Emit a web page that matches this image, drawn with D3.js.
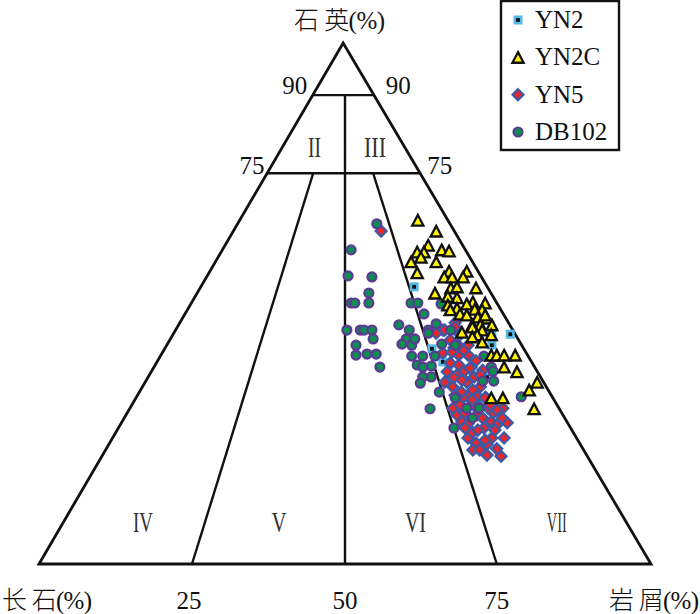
<!DOCTYPE html>
<html>
<head>
	<meta charset="utf-8">
	<title>石英-长石-岩屑</title>
	<script src="https://cdn.jsdelivr.net/npm/d3@7"></script>
	<style>
		body { margin: 0; background: #fff; }
		text { font-family: "Liberation Serif", serif; fill: #111; }
		.cjk { font-family: "Liberation Serif", "Noto Sans CJK SC", sans-serif; font-weight: 300; }
	</style>
</head>
<body>
<script>
// every point: [position along the base in %, quartz in %]
var outline = [[0, 0], [49.7, 100], [100, 0]];
var dividers = [
	[[44.8, 90], [54.7, 90]],
	[[37.4, 75], [62.3, 75]],
	[[50, 90], [50, 0]],
	[[44.8, 75], [25, 0]],
	[[54.6, 75], [74.8, 0]]
];

var yn2 = [[61.3,53.2],[77,44.1],[74,44.1],[64.2,41.3],[65.8,39.9],[66,38.8],[67,38.2],[74,42],[73.2,35.9]];

var yn2c = [[61.9,66],[64.9,63.9],[63.6,61.2],[61.8,59.9],[62.9,59.9],[65.8,60.3],[67,60.1],[62.4,58.9],[60.8,58],[64.9,58],
	[61.8,55.9],[67,56.2],[66.2,55.1],[67.5,55.1],[69.9,56.2],[69.3,55.1],[71.4,53],[64.7,52],[67.3,53],[68.3,53.2],
	[68.3,51.1],[66.8,51.4],[70.9,50.3],[72.9,50.1],[66.8,49.7],[69.9,49.9],[68.3,49.1],[67.2,48.8],[72.4,48.8],[71.2,48.9],
	[68.8,48],[69.9,47.8],[71.7,47.4],[73.2,47.2],[72.9,47.8],[70.8,45.9],[74,45.9],[72.1,45.9],[69.1,44.5],[70.8,45.5],
	[72.4,44.9],[73.9,44],[71.6,44],[72.4,42.6],[70.8,43.6],[73.9,40.1],[74.8,40.1],[76,40.1],[77.8,40.1],[76,37.8],
	[78.1,36.9],[81.4,34.9],[80.1,33.4],[73.9,31.9],[75.8,31.9],[80.9,29.8]];

var yn5 = [[55.9,63.9],[68.6,40.1],[70.1,40.1],[71.4,39],[68.6,38.2],[69.4,36.9],[66.3,34.9],[67.6,34],[69.9,34.9],[71.1,35.9],
	[72.1,34],[68.3,36.3],[72.5,37.2],[71.7,32.1],[70.1,32.1],[70.9,33.4],[69.3,31.9],[68.3,28.6],[67.6,29.9],[69.1,27.3],
	[70.1,26.9],[72.7,26.1],[74.2,29],[73.9,27.3],[75.8,29.9],[76.5,27.1],[75.7,28],[71.6,28.6],[70.1,24.2],[74,24.2],
	[76,24.2],[73.2,23],[71.4,23.2],[70.9,21.9],[74.8,22.1],[73.2,20.9],[75.5,20.7],[68,46.3],[66,44.9],[67.2,43],
	[68.5,42],[70.1,42],[66,40.5],[67.2,38.6],[74.8,29.6],[73.4,29.9],[72.5,28],[69.6,29],[72.1,30.1],[70.8,25.3],
	[64.9,44.3],[66.3,44.9],[68,45.5],[69.4,41],[67.8,41.5],[70.6,37.8],[67.8,35.8],[69,33],[71,30.5],[73,32],
	[68.8,44],[67.5,40.7],[66.7,36.9],[68,32.4],[68.8,30.5],[69.1,35.3],[70.4,37.6],[72.1,36.3],[70.8,31.5],[72.9,31.9],
	[73.7,30.5],[69.6,26.1],[71.7,25.7],[74.8,26.7],[72.9,23.8],[72,21.9],[74.5,25.7]];

var db102 = [[55.2,65.3],[51,60.3],[50.5,55.3],[54.4,55.1],[53.9,52],[53.9,50.1],[51,50.1],[51.6,50.1],[60.8,50.1],[61.9,50.1],
	[62.9,48],[50.3,44.9],[52.5,44.9],[53.1,44.9],[54.4,44.9],[58.8,45.9],[60.5,44.9],[63.6,44.9],[64.9,46.1],[65.7,49.9],
	[67.3,44.9],[54.6,43.2],[60,43.2],[51.8,42],[51.8,40.1],[53.6,40.3],[55.1,40.3],[55.7,37.8],[59.3,42.2],[60.9,42],
	[61.4,43.2],[63.6,44.3],[65.8,42.2],[68,42],[60.9,39.9],[62.7,39.9],[64.7,39.9],[61.8,38.2],[62.7,37.8],[64.1,38],
	[62.7,35.9],[64.1,35.9],[62.3,34.7],[65.4,33],[63.9,29.8],[67.8,26.1],[68,31.9],[69.9,29.9],[71.9,29.9],[70.8,28],
	[72.5,35.1],[72.7,39.9],[73.9,37.8],[74.2,37],[74.3,35.1],[78.8,32.1]];

var tickLabels = [
	{ text: "90", base: 41.8, quartz: 90.2 },
	{ text: "90", base: 58.7, quartz: 90.2 },
	{ text: "75", base: 34.8, quartz: 74.9 },
	{ text: "75", base: 65.5, quartz: 74.9 },
	{ text: "25", base: 24.5, quartz: -8.7 },
	{ text: "50", base: 50, quartz: -8.7 },
	{ text: "75", base: 74.8, quartz: -8.7 }
];
var regionNames = ["II", "III", "IV", "V", "VI", "VII"];
var regionBase = [45, 54.9, 17, 39.2, 61.5, 84.6];
var regionQuartz = [78.1, 78.1, 6.1, 6.1, 6.1, 6.1];
var regionWidth = [13, 22, 20, 15, 21, 20];
var legendNames = ["YN2", "YN2C", "YN5", "DB102"];

var width = 700, height = 614;
var svg = d3.select("body").append("svg").attr("width", width).attr("height", height);
var x = d3.scaleLinear().domain([0, 100]).range([39, 651]);
var y = d3.scaleLinear().domain([0, 100]).range([564, 43]);
var line = d3.line().x(function(d){ return x(d[0]); }).y(function(d){ return y(d[1]); });

// frame
svg.append("path").attr("d", line(outline) + "Z")
	.attr("fill", "none").attr("stroke", "#111").attr("stroke-width", 2.8).attr("stroke-linejoin", "miter");
svg.selectAll(".divider").data(dividers).enter().append("path")
	.attr("class", "divider").attr("d", line)
	.attr("fill", "none").attr("stroke", "#111").attr("stroke-width", 2.4);

// labels
svg.selectAll(".tick").data(tickLabels).enter().append("text")
	.attr("class", "tick")
	.attr("x", function(d){ return x(d.base); })
	.attr("y", function(d){ return y(d.quartz); })
	.attr("text-anchor", "middle").attr("font-size", 25)
	.text(function(d){ return d.text; });
svg.selectAll(".region").data(regionNames).enter().append("text")
	.attr("class", "region")
	.attr("x", function(d, i){ return x(regionBase[i]) - regionWidth[i] / 2; })
	.attr("y", function(d, i){ return y(regionQuartz[i]); })
	.attr("font-size", 30)
	.style("fill", "#333")
	.attr("textLength", function(d, i){ return regionWidth[i]; })
	.attr("lengthAdjust", "spacingAndGlyphs")
	.text(function(d){ return d; });

svg.append("text").attr("class", "cjk").attr("x", 294).attr("y", 29).attr("font-size", 25).attr("textLength", 91).text("石 英(%)");
svg.append("text").attr("class", "cjk").attr("x", 2).attr("y", 609).attr("font-size", 25).attr("textLength", 90).text("长 石(%)");
svg.append("text").attr("class", "cjk").attr("x", 609).attr("y", 609).attr("font-size", 25).attr("textLength", 90).text("岩 屑(%)");

// symbols
function drawSquare(g) {
	g.append("rect").attr("x", -3.2).attr("y", -3.2).attr("width", 6.4).attr("height", 6.4)
		.attr("fill", "#111").attr("stroke", "#55b9e3").attr("stroke-width", 2.6);
}
function drawTriangle(g) {
	g.append("path").attr("d", "M0,-5.2L5.6,5.4L-5.6,5.4Z")
		.attr("fill", "#fff200").attr("stroke", "#111").attr("stroke-width", 2.3);
}
function drawDiamond(g) {
	g.append("path").attr("d", "M0,-5.5L5.5,0L0,5.5L-5.5,0Z")
		.attr("fill", "#e8262b").attr("stroke", "#3d5aa5").attr("stroke-width", 2.2);
}
function drawCircle(g) {
	g.append("circle").attr("r", 4.5)
		.attr("fill", "#0b8f50").attr("stroke", "#5b3a92").attr("stroke-width", 2.2);
}
function plot(data, draw) {
	var g = svg.append("g").selectAll("g").data(data).enter().append("g")
		.attr("transform", function(d){ return "translate(" + x(d[0]) + "," + y(d[1]) + ")"; });
	draw(g);
}
plot(yn2, drawSquare);
plot(yn5, drawDiamond);
plot(db102, drawCircle);
plot(yn2c, drawTriangle);

// legend
var legendY = d3.scalePoint().domain(legendNames).range([20, 132]);
var draws = [drawSquare, drawTriangle, drawDiamond, drawCircle];
svg.append("rect").attr("x", 501).attr("y", 1).attr("width", 118).attr("height", 149)
	.attr("fill", "#fff").attr("stroke", "#111").attr("stroke-width", 2.4);
legendNames.forEach(function(name, i){
	var g = svg.append("g").attr("transform", "translate(518," + legendY(name) + ")");
	draws[i](g);
	svg.append("text").attr("x", 535).attr("y", legendY(name) + 8).attr("font-size", 25).text(name);
});
</script>
</body>
</html>
